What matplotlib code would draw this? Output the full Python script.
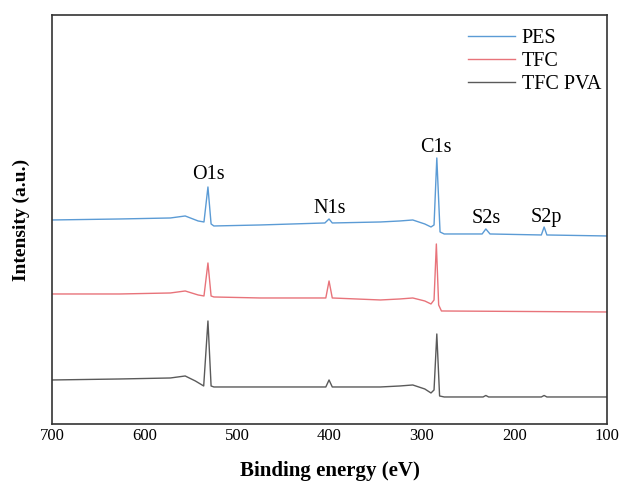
import matplotlib
matplotlib.use("Agg")
import matplotlib.pyplot as plt

plt.rcParams['font.family'] = ['Liberation Serif', 'DejaVu Serif']

# XPS survey spectra (binding energy eV, intensity a.u.)
pes_energy = [700, 626.5, 572, 556, 542, 535.7, 531.4, 528, 525, 475, 405, 400.5, 397,
              345, 324, 310, 297, 290.3, 287, 284, 280.5, 276, 235, 231, 226.5, 171, 168, 165, 100]
pes_int = [204, 205, 206, 208, 203, 202, 237, 200, 198, 199, 201, 205, 201,
           202, 203, 204, 200, 197, 199, 266, 192, 190, 190, 195, 190, 189, 197, 189, 188]

tfc_energy = [700, 626.5, 572, 556, 542, 535.7, 531.4, 528, 525, 475, 404, 400.5, 397,
              345, 324, 310, 297, 290.3, 287, 284.5, 282, 279, 100]
tfc_int = [130, 130, 131, 133, 129, 128, 161, 128, 127, 126, 126, 143, 126,
           124, 125, 126, 123, 120, 124, 180, 119, 113, 112]

pva_energy = [700, 626.5, 572, 556, 545, 536, 531.4, 528, 525, 475, 404, 400.5, 397,
              345, 324, 310, 297, 290.3, 287, 284, 281, 276, 234, 231, 228, 171, 168, 165, 100]
pva_int = [44, 45, 46, 48, 43, 38, 103, 38, 37, 37, 37, 44, 37,
           37, 38, 39, 35, 31, 34, 90, 28, 27, 27, 28.5, 27, 27, 28.5, 27, 27]

peak_names = ['O1s', 'N1s', 'C1s', 'S2s', 'S2p']
peak_pos = [(531, 245), (399.5, 211), (285, 272), (231, 201), (166, 202)]

fig = plt.figure(figsize=(6.21, 4.83), dpi=100)
ax = fig.add_axes([0.0837, 0.1222, 0.8938, 0.8468])

ax.plot(pes_energy, pes_int, color='#5b9bd5', lw=1.0, label='PES')
ax.plot(tfc_energy, tfc_int, color='#e8737a', lw=1.0, label='TFC')
ax.plot(pva_energy, pva_int, color='#5a5a5a', lw=1.0, label='TFC PVA')

for name, (x, y) in zip(peak_names, peak_pos):
    ax.text(x, y, name, ha='center', va='baseline', fontsize=14.5)

ax.set_xlim(700, 100)
ax.set_ylim(0, 409)
ax.set_xticks([700, 600, 500, 400, 300, 200, 100])
ax.set_yticks([])
ax.tick_params(axis='x', length=0, pad=3, labelsize=12)
for s in ax.spines.values():
    s.set_linewidth(1.2)
    s.set_color('#333333')

ax.set_xlabel('Binding energy (eV)', fontsize=15, fontweight='bold', labelpad=12)
ax.set_ylabel('Intensity (a.u.)', fontsize=14, fontweight='bold', labelpad=16)

ax.legend(loc='upper left', frameon=False, fontsize=14.5, handlelength=2.3,
          handletextpad=0.35, labelspacing=0.2, bbox_to_anchor=(0.725, 1.0),
          borderaxespad=0.3)

fig.savefig('out.png', dpi=100)
